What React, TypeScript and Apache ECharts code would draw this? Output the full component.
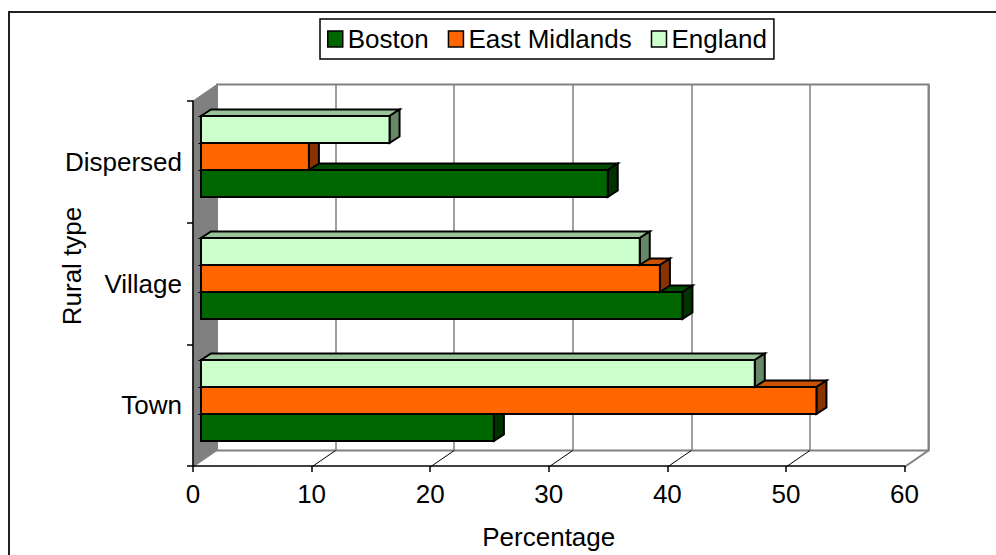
import React, { useEffect, useRef } from "react";
import * as echarts from "echarts";

// ---- data ----
const CATEGORIES = ["Town", "Village", "Dispersed"];
const SERIES_NAMES = ["Boston", "East Midlands", "England"];
const BOSTON = [24.7, 40.6, 34.3];
const EAST_MIDLANDS = [51.9, 38.7, 9.1];
const ENGLAND = [46.7, 37.0, 15.9];
const X_TICKS = [0, 10, 20, 30, 40, 50, 60];
const X_NAME = "Percentage";
const Y_NAME = "Rural type";

// ---- layout / style ----
const W = 996;
const H = 555;
const FONT = "'Liberation Sans', Arial, sans-serif";
const FS = 26;
const FRONT = { left: 193, top: 101, width: 711.5, height: 366 };
const DEPTH = { dx: 24, dy: 16.5 };
const BAR_SHIFT = { dx: 8, dy: 5.5 };
const BAR_DEPTH = { dx: 10, dy: 6.5 };
const BAR_FILL = 0.664;
const PALETTE = [
  { front: "#006600", top: "#004d00", side: "#003300" },
  { front: "#ff6600", top: "#cc5200", side: "#883300" },
  { front: "#ccffcc", top: "#99c499", side: "#668866" },
];

const X_MIN = X_TICKS[0];
const X_MAX = X_TICKS[X_TICKS.length - 1];
const X_STEP = X_TICKS[1] - X_TICKS[0];

function makeRenderItem(slotFromTop: number, colors: { front: string; top: string; side: string }) {
  return (params: any, api: any) => {
    const val = api.value(0);
    const cat = api.value(1);
    const c0 = api.coord([0, cat]);
    const c1 = api.coord([val, cat]);
    const band = api.size([0, 1])[1];
    const h = (band * BAR_FILL) / 3;
    const x0 = c0[0];
    const x1 = c1[0];
    const yt = c0[1] - 1.5 * h + slotFromTop * h;
    const yb = yt + h;
    const dx = BAR_DEPTH.dx;
    const dy = BAR_DEPTH.dy;
    const stroke = { stroke: "#000", lineWidth: 2, lineJoin: "miter" };
    return {
      type: "group",
      children: [
        {
          type: "polygon",
          shape: { points: [[x0, yt], [x0 + dx, yt - dy], [x1 + dx, yt - dy], [x1, yt]] },
          style: { fill: colors.top, ...stroke },
        },
        {
          type: "polygon",
          shape: { points: [[x1, yt], [x1 + dx, yt - dy], [x1 + dx, yb - dy], [x1, yb]] },
          style: { fill: colors.side, ...stroke },
        },
        {
          type: "rect",
          shape: { x: x0, y: yt, width: x1 - x0, height: h },
          style: { fill: colors.front, ...stroke },
        },
      ],
    };
  };
}

export default function App() {
  const ref = useRef<HTMLDivElement>(null);
  useEffect(() => {
    if (!ref.current) return;
    const chart = echarts.init(ref.current, null, { renderer: "svg" });

    const fl = FRONT.left;
    const fr = FRONT.left + FRONT.width;
    const ft = FRONT.top;
    const fb = FRONT.top + FRONT.height;
    const unit = FRONT.width / (X_MAX - X_MIN);

    const floorDiagonals = X_TICKS.slice(1, -1).map((t) => {
      const x = fl + (t - X_MIN) * unit;
      return {
        type: "line",
        z: 1,
        shape: { x1: x, y1: fb, x2: x + DEPTH.dx, y2: fb - DEPTH.dy },
        style: { stroke: "#000", lineWidth: 1 },
      };
    });

    const allSeries = [BOSTON, EAST_MIDLANDS, ENGLAND];

    const option: any = {
      animation: false,
      textStyle: { fontFamily: FONT },
      legend: {
        left: 320,
        top: 19,
        orient: "horizontal",
        padding: [7, 7, 7, 7],
        itemWidth: 15,
        itemHeight: 16,
        itemGap: 19,
        borderColor: "#000",
        borderWidth: 1.5,
        icon: "rect",
        itemStyle: { borderColor: "#000", borderWidth: 1.5 },
        textStyle: { fontSize: FS, color: "#000", fontFamily: FONT },
        data: SERIES_NAMES,
      },
      grid: [
        { left: fl, top: ft, width: FRONT.width, height: FRONT.height },
        {
          left: fl + DEPTH.dx,
          top: ft - DEPTH.dy,
          width: FRONT.width,
          height: FRONT.height,
          show: true,
          borderColor: "#808080",
          borderWidth: 2,
          backgroundColor: "transparent",
        },
        { left: fl + BAR_SHIFT.dx, top: ft - BAR_SHIFT.dy, width: FRONT.width, height: FRONT.height },
      ],
      xAxis: [
        {
          gridIndex: 0,
          type: "value",
          min: X_MIN,
          max: X_MAX,
          interval: X_STEP,
          z: 3,
          axisLine: { show: true, lineStyle: { color: "#000", width: 1.5 } },
          axisTick: { show: true, length: 6, lineStyle: { color: "#000", width: 1.5 } },
          splitLine: { show: false },
          axisLabel: { fontSize: FS, color: "#000", margin: 15, fontFamily: FONT },
          name: X_NAME,
          nameLocation: "middle",
          nameGap: 58,
          nameTextStyle: { fontSize: FS, color: "#000", fontFamily: FONT },
        },
        {
          gridIndex: 1,
          type: "value",
          min: X_MIN,
          max: X_MAX,
          interval: X_STEP,
          axisLine: { show: false },
          axisTick: { show: false },
          axisLabel: { show: false },
          splitLine: { show: true, lineStyle: { color: "#808080", width: 1.5 } },
        },
        { gridIndex: 2, type: "value", min: X_MIN, max: X_MAX, show: false },
      ],
      yAxis: [
        {
          gridIndex: 0,
          type: "category",
          data: CATEGORIES,
          z: 3,
          axisLine: { show: true, lineStyle: { color: "#000", width: 1.5 } },
          axisTick: { show: true, length: 6, lineStyle: { color: "#000", width: 1.5 } },
          axisLabel: { fontSize: FS, color: "#000", margin: 11, fontFamily: FONT },
          splitLine: { show: false },
        },
        { gridIndex: 1, type: "category", data: CATEGORIES, show: false },
        { gridIndex: 2, type: "category", data: CATEGORIES, show: false },
      ],
      graphic: [
        {
          type: "rect",
          z: 0,
          shape: { x: 9, y: 12, width: W + 20, height: H + 20 },
          style: { fill: "none", stroke: "#222", lineWidth: 2 },
        },
        {
          type: "polygon",
          z: 1,
          shape: {
            points: [
              [fl, ft],
              [fl + DEPTH.dx, ft - DEPTH.dy],
              [fl + DEPTH.dx, fb - DEPTH.dy],
              [fl, fb],
            ],
          },
          style: { fill: "#808080", stroke: "#808080", lineWidth: 1 },
        },
        {
          type: "line",
          z: 1,
          shape: { x1: fr, y1: fb, x2: fr + DEPTH.dx, y2: fb - DEPTH.dy },
          style: { stroke: "#808080", lineWidth: 2 },
        },
        ...floorDiagonals,
        {
          type: "text",
          x: 72,
          y: 266,
          rotation: Math.PI / 2,
          style: {
            text: Y_NAME,
            fontSize: FS,
            fontFamily: FONT,
            fill: "#000",
            align: "center",
            verticalAlign: "middle",
          },
        },
      ],
      series: allSeries.map((vals, i) => ({
        type: "custom",
        name: SERIES_NAMES[i],
        xAxisIndex: 2,
        yAxisIndex: 2,
        clip: false,
        itemStyle: { color: PALETTE[i].front },
        renderItem: makeRenderItem(2 - i, PALETTE[i]),
        data: vals.map((v, c) => [v, c]),
      })),
    };

    chart.setOption(option);
    return () => chart.dispose();
  }, []);

  return (
    <div
      ref={ref}
      style={{ position: "absolute", left: 0, top: 0, width: W, height: H, background: "#fff" }}
    />
  );
}
